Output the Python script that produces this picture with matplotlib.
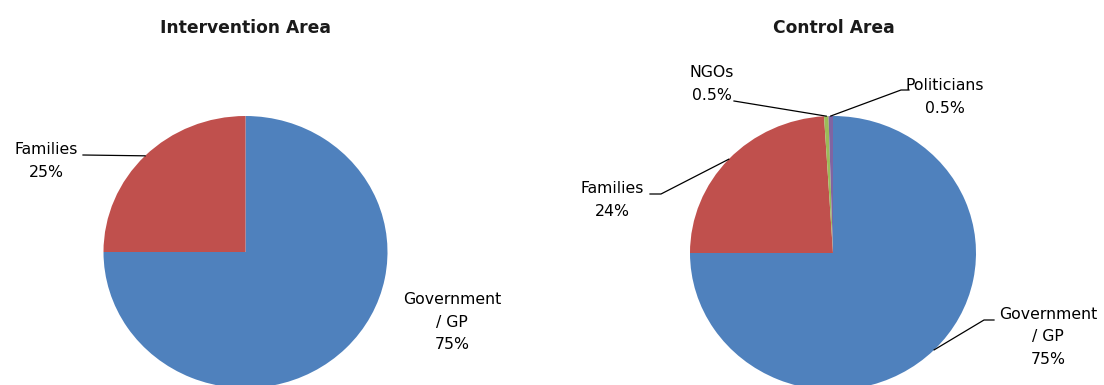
import numpy as np
import matplotlib
matplotlib.use("Agg")
import matplotlib.pyplot as plt

# Sources de financement, par zone
int_labels = ["Government\n/ GP\n75%", "Families\n25%"]
int_values = [75, 25]

ctl_labels = ["Government\n/ GP\n75%", "Families\n24%", "NGOs\n0.5%", "Politicians\n0.5%"]
ctl_values = [75, 24, 0.5, 0.5]

colors = ["#4F81BD", "#C0504D", "#9BBB59", "#8064A2"]

W, H = 1104, 385
fig = plt.figure(figsize=(W / 100, H / 100), dpi=100)

lab = dict(ha="center", va="center", fontsize=11.3, linespacing=1.6, color="black")
tit = dict(ha="center", va="center", fontsize=12.3, fontweight="bold", color="#1a1a1a")


def pie_axes(x0, x1, cx, cy, rx, ry, values):
    # axes couvrant une moitie de la figure, unite = rayon du camembert
    ax = fig.add_axes([x0 / W, 0, (x1 - x0) / W, 1])
    wedges, _ = ax.pie(values, colors=colors[:len(values)], startangle=90,
                       counterclock=False, radius=1,
                       wedgeprops=dict(linewidth=0))
    ax.set_aspect("auto")
    ax.set_xlim((x0 - cx) / rx, (x1 - cx) / rx)
    ax.set_ylim((cy - H) / ry, cy / ry)
    ax.axis("off")
    mids = []
    for w in wedges:
        a = np.deg2rad((w.theta1 + w.theta2) / 2)
        mids.append((np.cos(a), np.sin(a)))
    to_data = lambda x, y: ((x - cx) / rx, (cy - y) / ry)
    return ax, to_data, mids


def leader(ax, pts, edge):
    xs = [p[0] for p in pts] + [edge[0]]
    ys = [p[1] for p in pts] + [edge[1]]
    ax.plot(xs, ys, color="black", lw=0.9, clip_on=False)


# --- Intervention Area
ax1, p1, mids1 = pie_axes(0, 552, 245.5, 252, 142, 136, int_values)
ax1.text(*p1(246, 28), "Intervention Area", **tit)
ax1.text(*p1(452, 322), int_labels[0], **lab)
ax1.text(*p1(46, 161), int_labels[1], **lab)
leader(ax1, [p1(83, 155)], mids1[1])

# --- Control Area
ax2, p2, mids2 = pie_axes(552, 1104, 833, 253, 143, 137, ctl_values)
ax2.text(*p2(834, 28), "Control Area", **tit)
ax2.text(*p2(1048, 337), ctl_labels[0], **lab)
ax2.text(*p2(612, 200), ctl_labels[1], **lab)
ax2.text(*p2(712, 84), ctl_labels[2], **lab)
ax2.text(*p2(945, 97), ctl_labels[3], **lab)

leader(ax2, [p2(994, 320), p2(984, 320)], mids2[0])
leader(ax2, [p2(650, 194), p2(661, 194)], mids2[1])
leader(ax2, [p2(734, 101)], mids2[2])
leader(ax2, [p2(909, 90), p2(901, 90)], mids2[3])

fig.savefig("out.png", dpi=100)
